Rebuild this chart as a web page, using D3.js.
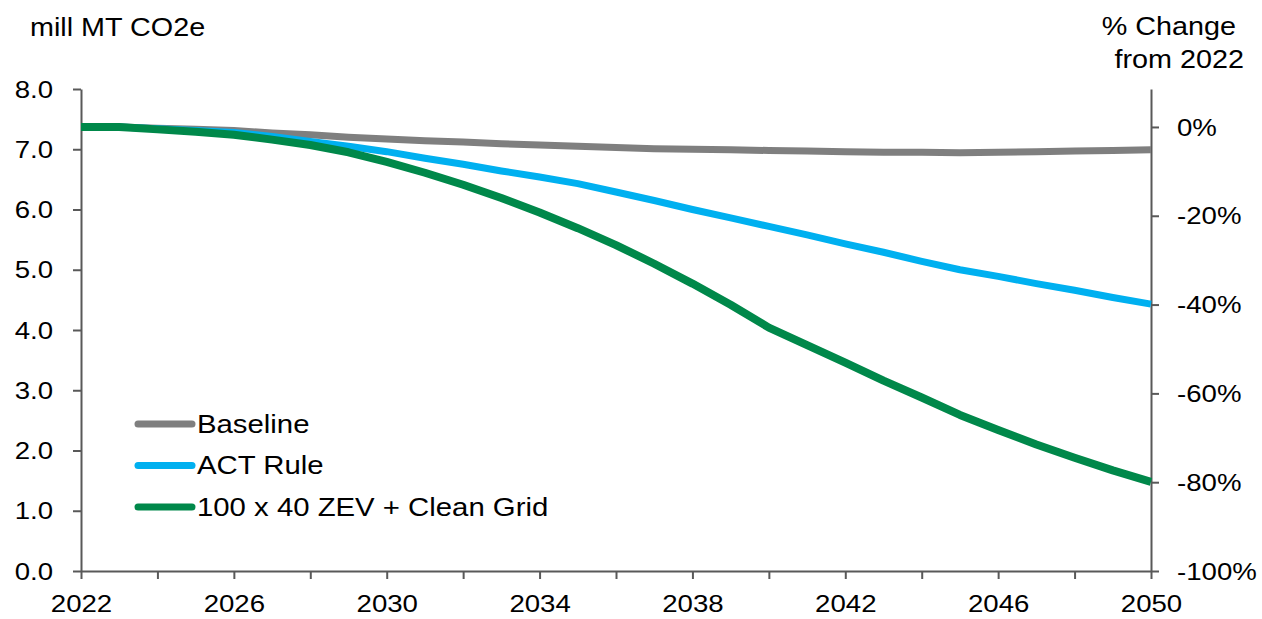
<!DOCTYPE html>
<html>
<head>
<meta charset="utf-8">
<script src="https://cdn.jsdelivr.net/npm/d3@7"></script>
<style>
  html, body { margin: 0; padding: 0; background: #fff; }
  svg text { font-family: "Liberation Sans", Arial, sans-serif; fill: #000; }
</style>
</head>
<body>
<svg id="chart" width="1262" height="619"></svg>
<script>
// --------------------------
// DATA
// --------------------------
const years = d3.range(2022, 2051);

const baseline = [7.37, 7.37, 7.35, 7.33, 7.31, 7.27, 7.24, 7.20, 7.17, 7.14,
                  7.12, 7.09, 7.07, 7.05, 7.03, 7.01, 7.00, 6.99, 6.98, 6.97,
                  6.96, 6.95, 6.95, 6.94, 6.95, 6.96, 6.97, 6.98, 6.99];

const actRule = [7.37, 7.37, 7.34, 7.31, 7.28, 7.21, 7.13, 7.05, 6.96, 6.85,
                 6.75, 6.64, 6.54, 6.43, 6.29, 6.15, 6.00, 5.86, 5.72, 5.58,
                 5.43, 5.29, 5.14, 5.00, 4.89, 4.77, 4.66, 4.54, 4.43];

const zevGrid = [7.37, 7.37, 7.33, 7.29, 7.24, 7.16, 7.07, 6.95, 6.79, 6.61,
                 6.41, 6.19, 5.95, 5.69, 5.41, 5.10, 4.77, 4.42, 4.04, 3.75,
                 3.46, 3.16, 2.88, 2.59, 2.34, 2.10, 1.88, 1.67, 1.48];

const seriesNames = ["Baseline", "ACT Rule", "100 x 40 ZEV + Clean Grid"];
const seriesColors = ["#7f7f7f", "#00b0f0", "#00884a"];
const seriesWidths = [7, 7, 8];

const leftTicks = [0, 1, 2, 3, 4, 5, 6, 7, 8];
const rightTicks = [-100, -80, -60, -40, -20, 0];
const xTicks = d3.range(2022, 2051, 2);
const base2022 = 7.37;

// --------------------------
// CHART
// --------------------------
const svg = d3.select("#chart");
const margin = { top: 89, right: 112, bottom: 48, left: 81 };
const width = +svg.attr("width");
const height = +svg.attr("height");
const stretch = 1.15;
const axisColor = "#595959";

const x = d3.scaleLinear()
    .domain([2022, 2050])
    .range([margin.left, width - margin.right + 1]);

const y = d3.scaleLinear()
    .domain([0, 8])
    .range([height - margin.bottom, margin.top]);

const yRight = d3.scaleLinear()
    .domain([-100, (8 / base2022 - 1) * 100])
    .range([height - margin.bottom, margin.top]);

// Axes
const gx = svg.append("g")
    .attr("transform", `translate(0,${height - margin.bottom})`)
    .call(d3.axisBottom(x)
        .tickValues(xTicks)
        .tickSize(8)
        .tickSizeOuter(0)
        .tickPadding(16)
        .tickFormat(d => (d - 2022) % 4 === 0 ? d : ""));

const gy = svg.append("g")
    .attr("transform", `translate(${margin.left},0)`)
    .call(d3.axisLeft(y)
        .tickValues(leftTicks)
        .tickSize(8)
        .tickSizeOuter(0)
        .tickPadding(20)
        .tickFormat(d3.format(".1f")));

const gyr = svg.append("g")
    .attr("transform", `translate(${x(2050)},0)`)
    .call(d3.axisRight(yRight)
        .tickValues(rightTicks)
        .tickSize(8)
        .tickSizeOuter(0)
        .tickPadding(18)
        .tickFormat(d => d + "%"));

[gx, gy, gyr].forEach(g => {
    g.selectAll("path.domain").attr("stroke", axisColor).attr("stroke-width", 2);
    g.selectAll(".tick line").attr("stroke", axisColor).attr("stroke-width", 2);
    g.selectAll(".tick text")
        .attr("font-size", 24)
        .attr("font-family", "Liberation Sans, Arial, sans-serif")
        .attr("fill", "#000");
});
gy.selectAll(".tick text").attr("dy", "0.34em");
gyr.selectAll(".tick text").attr("dy", "0.34em");

// Lines
const allSeries = [baseline, actRule, zevGrid];
const line = d3.line()
    .x((d, i) => x(years[i]))
    .y(d => y(d));

svg.append("g")
    .selectAll("path")
    .data(allSeries)
    .enter()
    .append("path")
    .attr("d", d => line(d))
    .attr("fill", "none")
    .attr("stroke", (d, i) => seriesColors[i])
    .attr("stroke-width", (d, i) => seriesWidths[i])
    .attr("stroke-linejoin", "round");

// Titles
svg.append("text")
    .attr("x", 30)
    .attr("y", 36)
    .attr("font-size", 25)
    .text("mill MT CO2e");

svg.append("text")
    .attr("x", 1236)
    .attr("y", 35)
    .attr("font-size", 25)
    .attr("text-anchor", "end")
    .text("% Change");

svg.append("text")
    .attr("x", 1244)
    .attr("y", 68)
    .attr("font-size", 25)
    .attr("text-anchor", "end")
    .text("from 2022");

// Legend
const legend = svg.append("g")
    .selectAll("g")
    .data(seriesNames)
    .enter()
    .append("g")
    .attr("transform", (d, i) => `translate(138,${424 + i * 41.5})`);

legend.append("line")
    .attr("x1", 0)
    .attr("x2", 54)
    .attr("stroke", (d, i) => seriesColors[i])
    .attr("stroke-width", 7)
    .attr("stroke-linecap", "round");

legend.append("text")
    .attr("class", "legend-label")
    .attr("x", 59)
    .attr("dy", "0.35em")
    .attr("font-size", 25.5)
    .text(d => d);

// Stretch text horizontally to match the wide look of the original
svg.selectAll("text").each(function() {
    const len = this.getComputedTextLength();
    if (len > 0) {
        d3.select(this)
            .attr("textLength", len * stretch)
            .attr("lengthAdjust", "spacingAndGlyphs");
    }
});
</script>
</body>
</html>
